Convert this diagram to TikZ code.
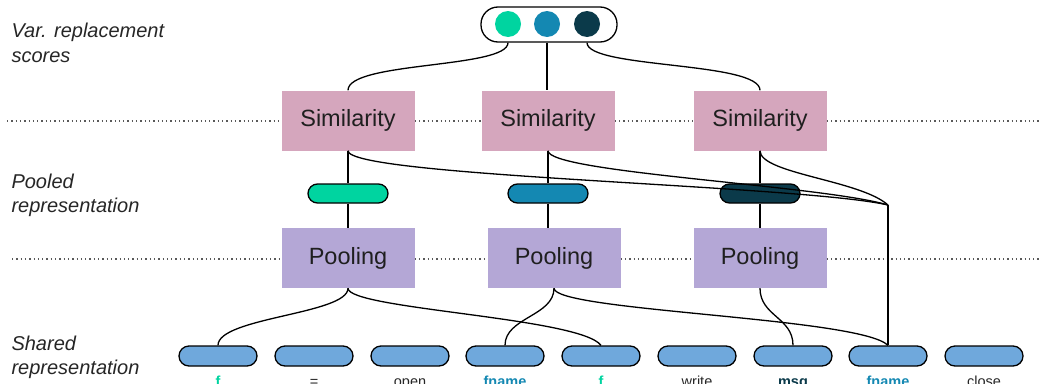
\documentclass[tikz,border=0pt]{standalone}
\usepackage{fontspec}
\setmainfont{Liberation Sans}
\definecolor{simpink}{HTML}{D5A6BD}
\definecolor{poolpurple}{HTML}{B4A7D6}
\definecolor{tokblue}{HTML}{6FA8DC}
\definecolor{cgreen}{HTML}{00D4A0}
\definecolor{cteal}{HTML}{1488B2}
\definecolor{cdark}{HTML}{0B3A4A}
\begin{document}
\begin{tikzpicture}[x=1pt,y=-1pt,
  bigbox/.style={minimum width=133pt, minimum height=60pt, inner sep=0pt, font=\fontsize{23.5}{28}\selectfont, text=black!88},
  simbox/.style={bigbox, fill=simpink},
  poolbox/.style={bigbox, fill=poolpurple},
  pill/.style={draw=black, line width=1.3pt, rounded corners=9.5pt, minimum width=80pt, minimum height=19pt, inner sep=0pt},
  tok/.style={draw=black, line width=1.3pt, fill=tokblue, rounded corners=10pt, minimum width=78pt, minimum height=20pt, inner sep=0pt},
  toklab/.style={anchor=base, font=\fontsize{14.5}{16}\selectfont, text=black!85},
  boldlab/.style={toklab, font=\fontsize{14.5}{16}\selectfont\bfseries},
  side/.style={anchor=base west, font=\fontsize{20}{24}\selectfont\itshape, text=black!85},
  dot/.style={circle, minimum size=26pt, inner sep=0pt},
  conn/.style={line width=1.3pt, black},
  dotline/.style={line width=1.4pt, dash pattern=on 1.3pt off 3pt, black!65}
]
\useasboundingbox (0,0) rectangle (1040,383);
\clip (0,0) rectangle (1040,383);

% side labels
\node[side] (l1a) at (8,37) {Var. replacement};
\node[side] (l1b) at (8,62) {scores};
\node[side] (l2a) at (8,188) {Pooled};
\node[side] (l2b) at (8,212) {representation};
\node[side] (l3a) at (8,350) {Shared};
\node[side] (l3b) at (8,374) {representation};

% top score box
\node[draw=black, line width=1.3pt, rounded corners=17pt, minimum width=136pt, minimum height=35pt, inner sep=0pt] (top) at (549,24.5) {};
\node[dot, fill=cgreen] (c1) at (508,24) {};
\node[dot, fill=cteal] (c2) at (547,24) {};
\node[dot, fill=cdark] (c3) at (587,24) {};

% similarity boxes
\node[simbox] (s1) at (348,120.5) {Similarity};
\node[simbox] (s2) at (548,120.5) {Similarity};
\node[simbox] (s3) at (760,120.5) {Similarity};

% pooled pills
\node[pill, fill=cgreen] (q1) at (348,193.5) {};
\node[pill, fill=cteal] (q2) at (548,193.5) {};
\node[pill, fill=cdark] (q3) at (760,193.5) {};

% pooling boxes
\node[poolbox] (p1) at (348,258) {Pooling};
\node[poolbox] (p2) at (554,258) {Pooling};
\node[poolbox] (p3) at (760,258) {Pooling};

% tokens
\node[tok] (t1) at (218,356) {};
\node[tok] (t2) at (314,356) {};
\node[tok] (t3) at (410,356) {};
\node[tok] (t4) at (505,356) {};
\node[tok] (t5) at (601,356) {};
\node[tok] (t6) at (697,356) {};
\node[tok] (t7) at (793,356) {};
\node[tok] (t8) at (888,356) {};
\node[tok] (t9) at (984,356) {};

\node[boldlab, text=cgreen] (w1) at (218,386) {f};
\node[toklab] (w2) at (314,386) {=};
\node[toklab] (w3) at (410,386) {open};
\node[boldlab, text=cteal] (w4) at (505,386) {fname};
\node[boldlab, text=cgreen] (w5) at (601,386) {f};
\node[toklab] (w6) at (697,386) {write};
\node[boldlab, text=cdark] (w7) at (793,386) {msg};
\node[boldlab, text=cteal] (w8) at (888,386) {fname};
\node[toklab] (w9) at (984,386) {close};

% dotted level lines
\coordinate (d1l) at (7,121);
\coordinate (d1r) at (1040,121);
\coordinate (d2l) at (12,259);
\coordinate (d2r) at (1040,259);
\draw[dotline] (d1l) -- (d1l -| s1.west);
\draw[dotline] (d1l -| s1.east) -- (d1l -| s2.west);
\draw[dotline] (d1l -| s2.east) -- (d1l -| s3.west);
\draw[dotline] (d1l -| s3.east) -- (d1r);
\draw[dotline] (d2l) -- (d2l -| p1.west);
\draw[dotline] (d2l -| p1.east) -- (d2l -| p2.west);
\draw[dotline] (d2l -| p2.east) -- (d2l -| p3.west);
\draw[dotline] (d2l -| p3.east) -- (d2r);

% score box to similarity
\draw[conn] (c1 |- top.south) .. controls +(0,26) and +(0,-29) .. (s1.north);
\draw[conn] (c2 |- top.south) -- (c2 |- s2.north);
\draw[conn] (c3 |- top.south) .. controls +(0,26) and +(0,-29) .. (s3.north);

% similarity to pooled pills to pooling
\draw[conn] (s1.south) -- (q1.north);
\draw[conn] (q1.south) -- (p1.north);
\draw[conn] (s2.south) -- (q2.north);
\draw[conn] (q2.south) -- (q2.south |- p2.north);
\draw[conn] (s3.south) -- (q3.north);
\draw[conn] (q3.south) -- (p3.north);

% similarity to the variable token
\coordinate (m) at (888,205);
\draw[conn] (s1.south) .. controls +(0,26) and +(-88,-20) .. (m);
\draw[conn] (s2.south) .. controls +(0,22) and +(-68,-20) .. (m);
\draw[conn] (s3.south) .. controls +(0,23) and +(-28,-25) .. (m);
\draw[conn] (m) -- (t8.north);

% pooling to tokens
\draw[conn] (p1.south) .. controls +(0,26) and +(0,-28) .. (t1.north);
\draw[conn] (p1.south) .. controls +(0,21) and +(-21,-28) .. (t5.north);
\draw[conn] (p2.south) .. controls +(0,28) and +(0,-28) .. (t4.north);
\draw[conn] (p2.south) .. controls +(0,23) and +(-28,-28) .. (t8.north);
\draw[conn] (p3.south) .. controls +(0,28) and +(0,-28) .. (t7.north);
\end{tikzpicture}
\end{document}
